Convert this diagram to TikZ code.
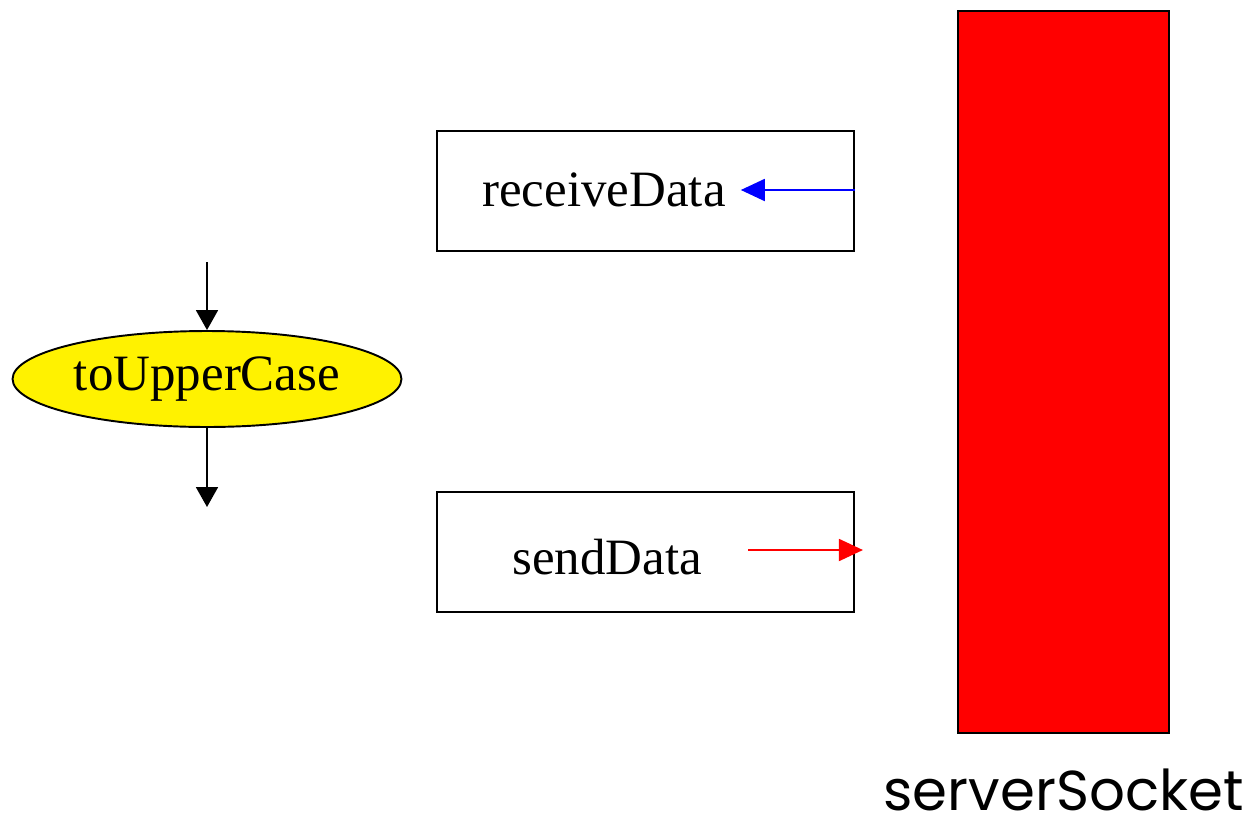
\documentclass[tikz,border=0pt]{standalone}
\usepackage{fontspec}
\setmainfont{Liberation Serif}
\newfontfamily\socketfont{Poppins}
\usetikzlibrary{positioning, arrows.meta, shapes.geometric}

\begin{document}
\begin{tikzpicture}[
  x=0.02cm, y=-0.02cm,
  font=\fontsize{29}{34}\selectfont,
  func/.style={draw, line width=1.1pt, minimum width=8.34cm,
    minimum height=2.4cm},
  task/.style={ellipse, draw, line width=1.1pt, fill=yellow,
    minimum width=7.78cm, minimum height=1.92cm, inner sep=0pt},
  sock/.style={draw, line width=1.1pt, fill=red, minimum width=4.22cm,
    minimum height=14.44cm},
  flow/.style={-{Triangle[length=0.4cm, width=0.44cm]}, line width=1.1pt},
  recvarrow/.style={-{Triangle[length=0.48cm, width=0.44cm]}, line width=1.1pt, blue},
  sendarrow/.style={-{Triangle[length=0.48cm, width=0.44cm]}, line width=1.1pt, red},
]
  \useasboundingbox (0,0) rectangle (1257,825);

  % socket (right)
  \node[font=\socketfont\fontsize{32}{36}\selectfont, inner sep=0pt] (socklbl)
    at (1063.5,790) {serverSocket};
  \node[sock] (socket) at (1063.5,372) {};

  % data functions (middle)
  \node[func] (recv) at (645.5,191) {};
  \node (recvtxt) at (604,190) {receiveData};
  \node[func] (send) at (645.5,552) {};
  \node (sendtxt) at (607,557) {sendData};

  % processing step (left)
  \node[task] (upper) at (207,379) {toUpperCase};
  \coordinate (upin)  at (207,262);
  \coordinate (upout) at (207,507);
  \coordinate (sendsrc) at (748,550);

  % connectors
  \draw[flow] (upin) -- (upper.north);
  \draw[flow] (upper.south) -- (upout);
  \draw[recvarrow] (recv.east |- recvtxt) -- ([xshift=0.18cm]recvtxt.east);
  \draw[sendarrow] (sendsrc) -- ([xshift=0.16cm]send.east |- sendsrc);
\end{tikzpicture}
\end{document}
